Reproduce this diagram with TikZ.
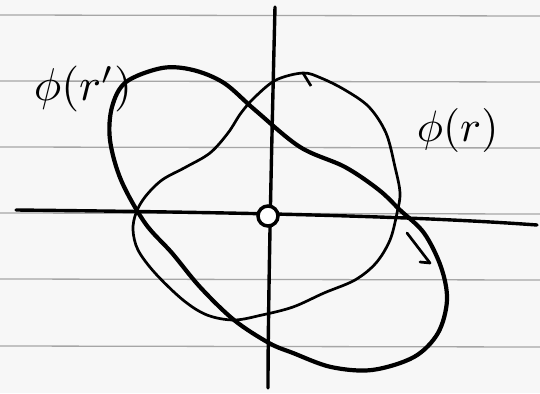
\documentclass[tikz,border=0pt]{standalone}
\usepackage{amsmath}
\begin{document}
\begin{tikzpicture}[x=1pt,y=-1pt,
  ruled/.style={draw=black!35,line width=1.3pt},
  axis/.style={draw=black,line width=3.4pt,line cap=round},
  thickcurve/.style={draw=black,line width=4.2pt,line join=round},
  thincurve/.style={draw=black,line width=2.7pt,line join=round},
  lbl/.style={inner sep=0pt,anchor=base west}]
\useasboundingbox (0,0) rectangle (540,393);
\fill[black!3] (0,0) rectangle (540,393);
% ruled paper lines
\foreach \yy in {15,81,147,213,279,346}
  \draw[ruled] (0,\yy) -- (540,\yy+1);
% axes
\coordinate (xl) at (16,210);
\coordinate (xr) at (537,225);
\coordinate (yt) at (275,7);
\coordinate (yb) at (268,388);
\draw[axis] (xl) .. controls (200,212) and (400,215) .. (xr);
\draw[axis] (yt) .. controls (272,130) and (268,300) .. (yb);
% curve phi(r') thick
\draw[thickcurve] plot[smooth cycle,tension=0.55] coordinates {
 (126,82) (162,68) (193,70) (224,83) (255,110) (300,147) (345,167)
 (379,190) (400,210) (424,233) (441,267) (447,300) (438,333) (414,357)
 (372,370) (331,367) (293,353) (269,343) (234,320) (200,287) (172,253)
 (145,223) (121,180) (110,140) (112,107)};
% curve phi(r) thin
\draw[thincurve] plot[smooth cycle,tension=0.55] coordinates {
 (303,73) (276,80) (255,97) (241,113) (228,133) (210,153) (186,167)
 (162,180) (145,197) (136,213) (133,230) (138,250) (155,273) (183,300)
 (207,315) (234,320) (262,315) (293,307) (324,293) (355,280) (376,263)
 (390,240) (397,213) (400,193) (395,167) (386,133) (369,107) (345,90)
 (321,78)};
\coordinate (tk1) at (303,73);
\coordinate (tk2) at (311,86);
\draw[thincurve] (tk1) -- (tk2);
% arrow on curve
\coordinate (a1) at (407,233);
\coordinate (a2) at (430,263);
\coordinate (a3) at (420,262);
\draw[thincurve,line cap=round] (a1) -- (a2) -- (a3);
% origin ring
\node[circle,draw=black,line width=3.5pt,fill=white,minimum size=20pt,inner sep=0pt] (o) at (268,216) {};
% labels
\node[lbl,scale=4.6] (l1) at (33,101) {$\phi(r')$};
\node[lbl,scale=4.4] (l2) at (416,141) {$\phi(r)$};
\end{tikzpicture}
\end{document}
